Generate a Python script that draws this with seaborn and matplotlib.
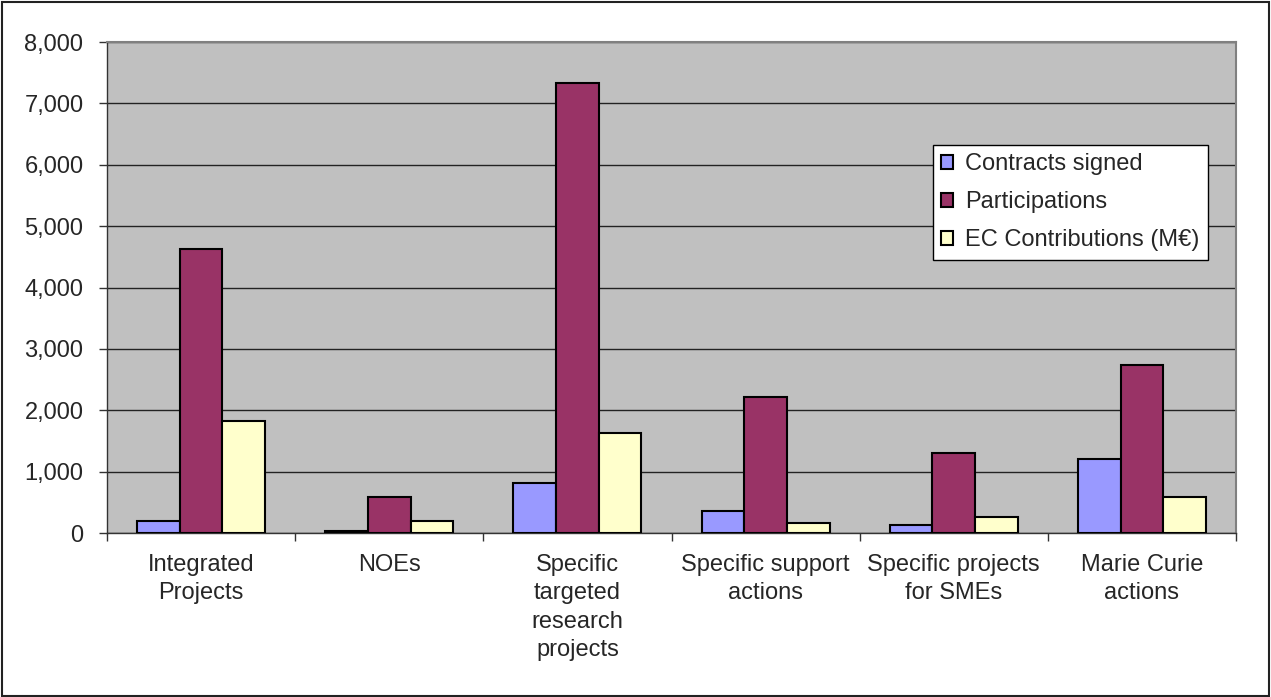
import matplotlib
matplotlib.use("Agg")
import matplotlib.pyplot as plt
import matplotlib.ticker as mticker
from matplotlib.patches import Rectangle
import pandas as pd
import seaborn as sns

# Instrument types and their figures
categories = [
    "Integrated\nProjects",
    "NOEs",
    "Specific\ntargeted\nresearch\nprojects",
    "Specific support\nactions",
    "Specific projects\nfor SMEs",
    "Marie Curie\nactions",
]
series_names = ["Contracts signed", "Participations", "EC Contributions (M€)"]
contracts_signed = [200, 40, 810, 360, 135, 1210]
participations = [4620, 590, 7330, 2215, 1308, 2740]
ec_contributions = [1825, 200, 1635, 168, 266, 590]
y_ticks = [0, 1000, 2000, 3000, 4000, 5000, 6000, 7000, 8000]

colors = ["#9999FF", "#993366", "#FFFFCC"]

rows = []
for name, vals in zip(series_names, [contracts_signed, participations, ec_contributions]):
    for cat, v in zip(categories, vals):
        rows.append({"category": cat, "series": name, "value": v})
df = pd.DataFrame(rows)

sns.set_theme(style="white")
plt.rcParams["font.family"] = ["Liberation Sans", "DejaVu Sans"]
FS = 17

W, H = 1271, 697
fig = plt.figure(figsize=(W / 100, H / 100), dpi=100)
fig.patch.set_facecolor("white")
ax = fig.add_axes([107 / W, 1 - 533 / H, 1129 / W, 491 / H])
ax.set_facecolor("#C0C0C0")

sns.barplot(
    data=df, x="category", y="value", hue="series",
    order=categories, hue_order=series_names,
    palette=colors, width=0.68, gap=0,
    edgecolor="black", linewidth=1.5, saturation=1,
    ax=ax, zorder=3,
)

ax.set_xlim(-0.5, len(categories) - 0.5)
ax.set_ylim(0, 8000)
ax.set_yticks(y_ticks)
ax.yaxis.set_major_formatter(mticker.FuncFormatter(lambda v, p: f"{int(v):,}"))
ax.grid(axis="y", color="#222222", linewidth=1, zorder=1)
ax.set_axisbelow(True)
ax.set_xlabel("")
ax.set_ylabel("")

# category labels centred, tick marks on the group boundaries
ax.set_xticks(range(len(categories)))
ax.set_xticklabels(categories, fontsize=FS, linespacing=1.38, va="top")
ax.tick_params(axis="x", which="major", length=0, pad=15)
ax.set_xticks([i - 0.5 for i in range(len(categories) + 1)], minor=True)
ax.tick_params(axis="x", which="minor", length=6, width=1, color="#333333", direction="out")
ax.tick_params(axis="y", length=6, width=1, color="#333333", direction="out", labelsize=FS, pad=11)
ax.tick_params(axis="both", bottom=True, left=True)
ax.xaxis.set_tick_params(which="minor", bottom=True)

for side in ["top", "right"]:
    ax.spines[side].set_color("#808080")
    ax.spines[side].set_linewidth(1.5)
for side in ["left", "bottom"]:
    ax.spines[side].set_color("#333333")
    ax.spines[side].set_linewidth(1)

handles, labels = ax.get_legend_handles_labels()
if ax.get_legend() is not None:
    ax.get_legend().remove()
leg = fig.legend(
    handles, labels, loc="upper left",
    bbox_to_anchor=(933 / W, 1 - 145 / H), borderaxespad=0,
    fontsize=FS, frameon=True, fancybox=False, framealpha=1,
    edgecolor="black", handlelength=0.5, handleheight=0.5,
    handletextpad=0.5, labelspacing=0.68, borderpad=0.35,
)
leg.get_frame().set_linewidth(1)

# border around the whole chart
fig.patches.append(Rectangle((0.0015, 0.002), 0.997, 0.995, transform=fig.transFigure,
                             fill=False, edgecolor="#222222", linewidth=1.5))

fig.savefig("out.png", dpi=100)
